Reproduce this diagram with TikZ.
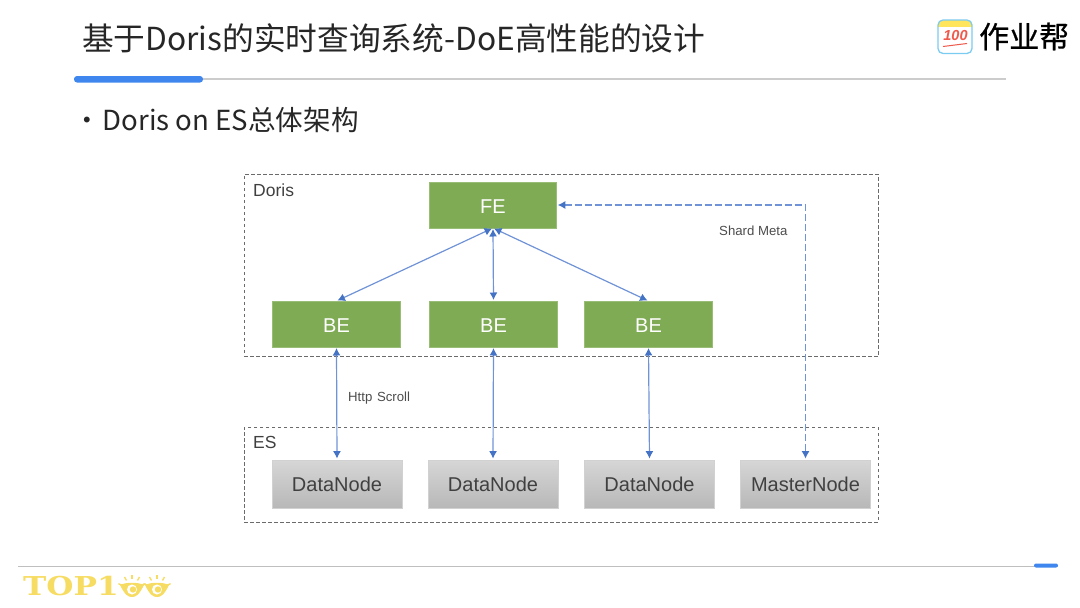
\documentclass[tikz,border=0pt]{standalone}
\usepackage{fontspec}
\setmainfont{Noto Sans CJK SC}
\newfontfamily\arialfont{Liberation Sans}
\newfontfamily\topfont{DejaVu Serif}
\newfontfamily\logofont[FakeBold=0.6]{Noto Sans CJK SC}
\definecolor{linkblue}{HTML}{4472C4}
\definecolor{linelight}{HTML}{6F93D6}
\definecolor{begreen}{HTML}{7FAB55}
\definecolor{barblue}{HTML}{3F87EE}
\definecolor{topyellow}{HTML}{F6DC62}
\definecolor{iconblue}{HTML}{7CCBF0}
\definecolor{iconyellow}{HTML}{FFE55C}
\definecolor{iconred}{HTML}{EE5A4C}
\usetikzlibrary{arrows.meta}
\tikzset{
  groupbox/.style={draw=black!58,dash pattern=on 3.5pt off 2.5pt,line width=1pt,inner sep=0pt},
  benode/.style={fill=begreen,draw=begreen!80!white,line width=0.5pt,text=white,inner sep=0pt,
    minimum height=45.5pt,text height=17pt,text depth=0pt,font=\arialfont\fontsize{20}{24}\selectfont},
  esnode/.style={top color=black!16,bottom color=black!28,draw=black!18,line width=0.8pt,text=black!75,inner sep=0pt,
    minimum width=130pt,minimum height=48pt,font=\arialfont\fontsize{20}{24}\selectfont},
  grouplabel/.style={text=black!75,inner sep=0pt,font=\arialfont\fontsize{17.5}{20}\selectfont},
  linklabel/.style={text=black!70,inner sep=0pt,font=\arialfont\fontsize{13.2}{16}\selectfont},
  link/.style={draw=linelight,line width=1.2pt,{Latex[length=7.5pt,width=8pt,linkblue]}-{Latex[length=7.5pt,width=8pt,linkblue]},shorten >=1pt,shorten <=1pt},
}
\begin{document}
\begin{tikzpicture}[x=1pt,y=-1pt]
  \useasboundingbox (0,0) rectangle (1080,608);
  % header
  \node[anchor=west,inner sep=0pt,text=black!85,font=\fontsize{31.7}{38}\selectfont] (title) at (82,38) {基于Doris的实时查询系统-DoE高性能的设计};
  \fill[black!20] (74,78.2) rectangle (1006,79.6);
  \fill[barblue,rounded corners=3pt] (74,76) rectangle (203,82.5);
  \node[anchor=west,inner sep=0pt,text=black!85,font=\fontsize{27.6}{32}\selectfont] (subtitle) at (73,120.5) {•\hspace{2pt}Doris on ES总体架构};
  % logo
  \begin{scope}
    \clip[rounded corners=5pt] (938,20) rectangle (972,53.5);
    \fill[white] (938,20) rectangle (972,53.5);
    \fill[iconyellow] (938,20) rectangle (972,26.5);
  \end{scope}
  \draw[iconblue,line width=1.3pt,rounded corners=5pt] (938,20) rectangle (972,53.5);
  \node[inner sep=0pt,text=iconred,font=\arialfont\bfseries\itshape\fontsize{14.5}{16}\selectfont] (logonum) at (955.5,36) {100};
  \draw[iconred,line width=1pt] (943,46.5) -- (967,43.5);
  \node[anchor=west,inner sep=0pt,text=black,font=\logofont\fontsize{30}{34}\selectfont] (logotext) at (979,36.5) {作业帮};
  % groups
  \node[groupbox,minimum width=634pt,minimum height=182.5pt] (doris) at (561,265.7) {};
  \node[groupbox,minimum width=634pt,minimum height=95pt] (es) at (561,474.5) {};
  \node[grouplabel,anchor=north west] (dorislabel) at (253,183.5) {Doris};
  \node[grouplabel,anchor=north west] (eslabel) at (253,436) {ES};
  % doris nodes
  \node[benode,minimum width=127pt] (fe) at (493,205) {FE};
  \node[benode,minimum width=128pt] (be1) at (336.5,324) {BE};
  \node[benode,minimum width=128pt] (be2) at (493.5,324) {BE};
  \node[benode,minimum width=128pt] (be3) at (648.5,324) {BE};
  % es nodes
  \node[esnode] (dn1) at (337,484) {DataNode};
  \node[esnode] (dn2) at (493,484) {DataNode};
  \node[esnode] (dn3) at (649.5,484) {DataNode};
  \node[esnode] (mn) at (805.5,484) {MasterNode};
  % links
  \draw[link] (fe.south) to (be1.north);
  \draw[link] (fe.south) to (be2.north);
  \draw[link] (fe.south) to (be3.north);
  \draw[link] (be1.south) to (dn1.north);
  \draw[link] (be2.south) to (dn2.north);
  \draw[link] (be3.south) to (dn3.north);
  \draw[link,dash pattern=on 7pt off 3pt] (fe.east) -| (mn.north);
  \node[linklabel,anchor=west] (scroll) at (348,398) {Http\hspace{1pt} Scroll};
  \node[linklabel,anchor=west] (meta) at (719,230.5) {Shard Meta};
  % footer
  \fill[black!25] (18,565.8) rectangle (1058,567);
  \fill[barblue,rounded corners=2pt] (1034,563.5) rectangle (1058,567.5);
  \node[anchor=west,inner sep=0pt,text=topyellow,xscale=1.2,font=\topfont\bfseries\fontsize{26}{28}\selectfont] (top) at (23,586.5) {TOP1};
  \foreach \cx in {132,157} {
    \begin{scope}[shift={(\cx,590)}]
      \fill[topyellow] (-12,-5) .. controls (-6,-8) and (6,-8) .. (12,-5) .. controls (7,5) and (4,7) .. (0,7) .. controls (-4,7) and (-7,5) .. (-12,-5) -- cycle;
      \fill[white] (0,-0.5) circle (5pt);
      \fill[topyellow] (1,-0.5) circle (3.2pt);
      \foreach \a in {205,240,270,300,335}
        \draw[topyellow,line width=1.4pt] (\a:11) -- (\a:15);
    \end{scope}
  }
\end{tikzpicture}
\end{document}
